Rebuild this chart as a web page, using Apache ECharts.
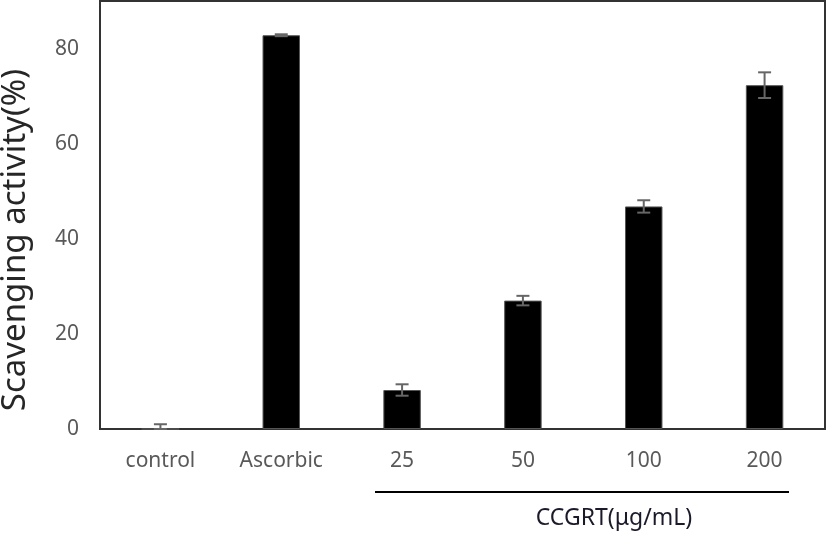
<!DOCTYPE html>
<html>
<head>
<meta charset="utf-8">
<script src="https://cdn.jsdelivr.net/npm/echarts@6/dist/echarts.min.js"></script>
<style>html,body{margin:0;padding:0;background:#fff;}#c{width:827px;height:533px;}</style>
</head>
<body>
<div id="c"></div>
<script>
const categories = ['control', 'Ascorbic', '25', '50', '100', '200'];
const values = [0, 82.8, 8.2, 27.0, 46.8, 72.3];
const errors = [1.0, 0.2, 1.2, 1.0, 1.3, 2.7];
const yTicks = [0, 20, 40, 60, 80];
const yTitle = 'Scavenging activity(%)';
const groupTitle = 'CCGRT(μg/mL)';

const chart = echarts.init(document.getElementById('c'), null, {renderer: 'canvas'});
const FONT = '"Noto Sans", "Open Sans", sans-serif';

chart.setOption({
  animation: false,
  grid: {left: 100, right: 2, top: 1, height: 428, show: true, borderColor: '#333', borderWidth: 2, backgroundColor: 'transparent'},
  xAxis: {
    type: 'category', data: categories,
    axisLine: {show: true, lineStyle: {color: '#333', width: 2}},
    axisTick: {show: false},
    axisLabel: {color: '#595959', fontSize: 21, fontFamily: FONT, margin: 22}
  },
  yAxis: {
    type: 'value', min: 0, max: 90, interval: 20,
    splitLine: {show: false},
    axisLine: {show: true, lineStyle: {color: '#333', width: 2}},
    axisTick: {show: false},
    axisLabel: {color: '#595959', fontSize: 21, fontFamily: FONT, margin: 21, showMaxLabel: false,
      formatter: v => yTicks.includes(v) ? String(v) : ''}
  },
  series: [
    {
      type: 'bar', data: values, barWidth: '31%',
      itemStyle: {color: '#000', borderColor: '#555', borderWidth: 1}
    },
    {
      type: 'custom', z: 10,
      data: values.map((v, i) => [i, v, errors[i]]),
      renderItem: function (params, api) {
        const i = api.value(0), v = api.value(1), e = api.value(2);
        const top = api.coord([i, v + e]);
        const bot = api.coord([i, Math.max(0, v - e)]);
        const hw = 6.5;
        const st = {stroke: '#666', lineWidth: 2};
        return {type: 'group', children: [
          {type: 'line', shape: {x1: top[0], y1: top[1], x2: bot[0], y2: bot[1]}, style: st},
          {type: 'line', shape: {x1: top[0] - hw, y1: top[1], x2: top[0] + hw, y2: top[1]}, style: st},
          {type: 'line', shape: {x1: bot[0] - hw, y1: bot[1], x2: bot[0] + hw, y2: bot[1]}, style: st}
        ]};
      }
    }
  ],
  graphic: [
    {type: 'text', x: 16, y: 240, rotation: Math.PI / 2,
      style: {text: yTitle, fill: '#262626', font: '33px "Noto Sans", sans-serif', align: 'center', verticalAlign: 'middle'}},
    {type: 'line', shape: {x1: 375, y1: 492, x2: 789, y2: 492}, style: {stroke: '#000', lineWidth: 2}},
    {type: 'text', x: 614, y: 518,
      style: {text: groupTitle, fill: '#1a1a2a', font: '23px "Noto Sans", sans-serif', align: 'center', verticalAlign: 'middle'}}
  ]
});
</script>
</body>
</html>
